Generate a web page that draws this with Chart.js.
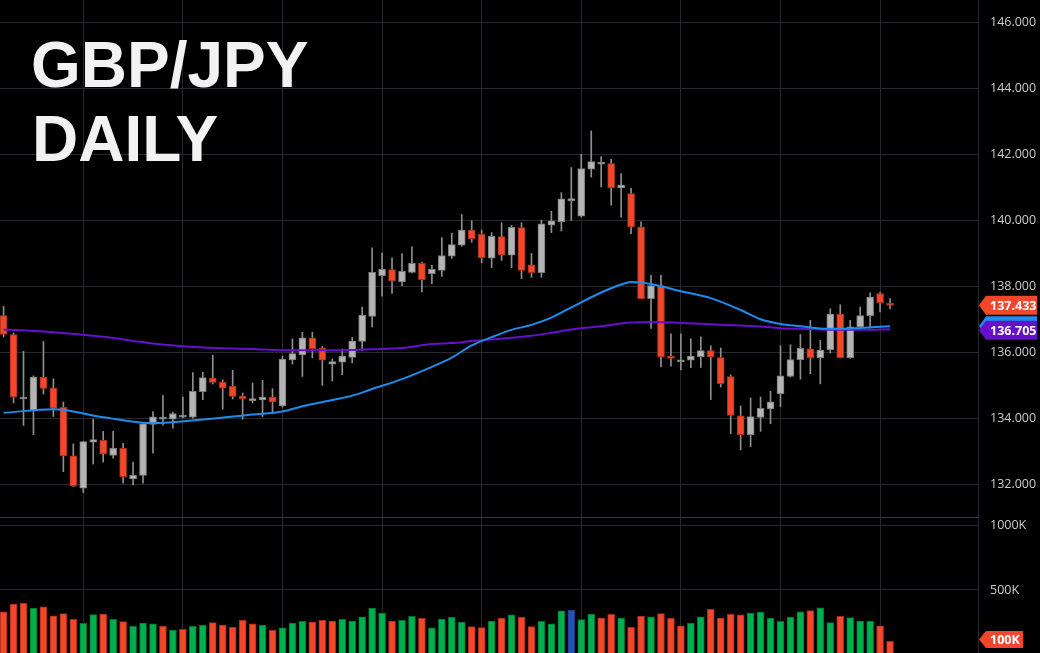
<!DOCTYPE html>
<html>
<head>
<meta charset="utf-8">
<title>GBP/JPY Daily</title>
<style>
  html, body { margin: 0; padding: 0; background: #000; }
  #wrap { width: 1040px; height: 653px; }
</style>
<script src="https://cdn.jsdelivr.net/npm/chart.js@4.4.1/dist/chart.umd.min.js"></script>
</head>
<body>
<div id="wrap"><canvas id="chart" width="1040" height="653"></canvas></div>
<script>
// Daily candles (index 0 = leftmost bar)
const opens = [137.12, 136.55, 134.60, 134.25, 135.26, 134.93, 134.35, 132.88, 131.90, 133.29,
  133.35, 132.89, 133.11, 132.18, 132.29, 133.83, 133.99, 133.99, 134.05, 134.05,
  134.82, 135.23, 135.11, 134.98, 134.69, 134.55, 134.57, 134.66, 134.39, 135.78,
  135.93, 136.45, 136.14, 135.65, 135.71, 135.86, 136.34, 137.10, 138.33, 138.51,
  138.14, 138.43, 138.70, 138.39, 138.49, 138.92, 139.25, 139.71, 139.58, 138.86,
  139.51, 138.95, 139.78, 138.66, 138.42, 139.86, 139.96, 140.60, 140.13, 141.55,
  141.70, 141.72, 140.98, 140.81, 139.80, 137.63, 138.03, 135.88, 135.72, 135.77,
  135.88, 136.06, 135.85, 135.28, 134.09, 133.52, 134.04, 134.30, 134.76, 135.28,
  135.79, 136.12, 135.85, 136.09, 137.17, 135.85, 136.78, 137.12, 137.79, 137.49];
const highs = [137.40, 136.60, 136.04, 135.30, 136.34, 135.21, 134.51, 133.24, 133.31, 133.99,
  133.62, 133.62, 133.26, 132.69, 133.85, 134.22, 134.70, 134.20, 134.66, 135.40,
  135.41, 135.92, 135.18, 135.47, 134.78, 135.08, 135.16, 134.91, 135.89, 136.42,
  136.62, 136.62, 136.19, 135.81, 136.11, 136.46, 137.38, 139.17, 139.02, 138.87,
  139.00, 139.20, 138.74, 138.64, 139.48, 139.61, 140.18, 139.99, 139.71, 139.63,
  139.93, 139.85, 139.93, 139.00, 140.01, 140.28, 140.84, 141.60, 142.00, 142.71,
  141.93, 141.85, 141.42, 140.97, 139.96, 138.34, 138.34, 136.57, 136.57, 136.42,
  136.48, 136.21, 136.14, 135.33, 134.39, 134.63, 134.66, 134.83, 136.21, 136.24,
  136.55, 136.98, 136.37, 137.33, 137.45, 136.98, 137.38, 137.81, 137.83, 137.64];
const lows = [136.48, 134.48, 133.80, 133.52, 134.75, 134.07, 132.40, 131.95, 131.77, 132.63,
  132.69, 132.81, 132.05, 132.00, 132.05, 132.96, 133.81, 133.72, 134.03, 134.02,
  134.58, 135.05, 134.29, 134.60, 133.99, 134.48, 134.07, 134.15, 134.35, 135.66,
  135.28, 135.84, 135.01, 135.15, 135.33, 135.69, 136.07, 136.78, 137.71, 137.79,
  138.03, 138.41, 137.84, 138.09, 138.31, 138.85, 139.22, 139.34, 138.72, 138.57,
  138.79, 138.57, 138.24, 138.28, 138.28, 139.63, 139.68, 140.00, 140.10, 141.31,
  141.01, 140.46, 140.10, 139.60, 137.63, 136.73, 135.57, 135.59, 135.48, 135.55,
  135.55, 134.58, 134.96, 133.55, 133.06, 133.16, 133.62, 133.85, 134.37, 135.26,
  135.20, 135.36, 135.06, 135.99, 135.84, 135.83, 136.68, 136.75, 137.23, 137.32];
const closes = [136.55, 134.66, 134.65, 135.26, 134.92, 134.32, 132.88, 131.97, 133.31, 133.37,
  132.94, 133.11, 132.25, 132.29, 133.85, 134.06, 134.04, 134.16, 134.10, 134.83,
  135.25, 135.10, 134.93, 134.68, 134.61, 134.60, 134.66, 134.51, 135.81, 135.97,
  136.45, 136.12, 135.77, 135.73, 135.90, 136.35, 137.14, 138.43, 138.52, 138.17,
  138.46, 138.70, 138.21, 138.52, 138.94, 139.27, 139.71, 139.45, 138.87, 139.52,
  138.96, 139.79, 138.49, 138.42, 139.90, 139.99, 140.65, 140.65, 141.57, 141.78,
  141.75, 140.99, 141.07, 139.80, 137.63, 138.03, 135.87, 135.83, 135.77, 135.90,
  136.06, 135.87, 135.06, 134.10, 133.52, 134.07, 134.32, 134.51, 135.30, 135.79,
  136.13, 135.85, 136.08, 137.17, 135.85, 136.78, 137.12, 137.68, 137.51, 137.433];

// Volume in thousands
const volumes = [331, 391, 397, 360, 370, 300, 316, 272, 241, 308,
  313, 272, 254, 218, 243, 236, 220, 189, 194, 218,
  228, 246, 228, 210, 264, 236, 228, 187, 205, 243,
  257, 251, 264, 259, 272, 259, 292, 360, 321, 259,
  264, 295, 280, 205, 274, 288, 251, 215, 207, 259,
  282, 306, 290, 215, 257, 236, 337, 344, 269, 313,
  282, 311, 282, 210, 298, 292, 316, 280, 222, 243,
  292, 350, 282, 311, 306, 321, 329, 282, 257, 290,
  331, 339, 362, 246, 295, 285, 259, 259, 222, 100];

// Moving averages, sampled at these bar indices
const maIndex = [0, 5, 10, 15, 20, 25, 28, 30, 33, 35, 37, 40, 43, 45, 47, 49, 51, 53, 55, 57,
  60, 62, 63, 65, 68, 71, 74, 76, 78, 80, 82, 84, 86, 89];
const maFast = [134.18, 134.29, 134.05, 133.87, 133.98, 134.13, 134.22, 134.38, 134.57, 134.70,
  134.90, 135.20, 135.57, 135.85, 136.22, 136.47, 136.69, 136.84, 137.06, 137.37,
  137.82, 138.06, 138.14, 138.08, 137.86, 137.65, 137.29, 137.01, 136.87, 136.80,
  136.73, 136.72, 136.75, 136.80];
const maSlow = [136.70, 136.62, 136.48, 136.28, 136.16, 136.11, 136.07, 136.07, 136.07, 136.08,
  136.10, 136.14, 136.26, 136.29, 136.35, 136.40, 136.45, 136.51, 136.60, 136.70,
  136.80, 136.88, 136.91, 136.93, 136.90, 136.86, 136.82, 136.79, 136.74, 136.72,
  136.70, 136.69, 136.69, 136.705];

// Axis ticks
const priceTicks = [132, 134, 136, 138, 140, 142, 144, 146];
const volumeTicks = [500, 1000];
const gridBars = [8, 18, 28, 38, 48, 58, 68, 78, 88];

const UP = '#b4b4b4', UP_EDGE = '#7c7c7c';
const DOWN = '#f2472b', DOWN_EDGE = '#a8301a';
const WICK = '#8e8e8e';
const VOL_UP = '#00b04f', VOL_DOWN = '#f2472b', VOL_FLAT = '#2452b8';
const BLUE = '#1e8cec', PURPLE = '#6610cc';
const GRID = '#262a2f';

const isUp = i => closes[i] >= opens[i];
const volColor = i => {
  const prev = i > 0 ? closes[i - 1] : opens[i];
  if (closes[i] > prev) return VOL_UP;
  if (closes[i] < prev) return VOL_DOWN;
  return VOL_FLAT;
};
const volEdge = i => {
  const c = volColor(i);
  return c === VOL_UP ? '#00702f' : c === VOL_DOWN ? '#a02c18' : '#163a80';
};

function drawTag(ctx, x, y, w, h, color, text) {
  ctx.save();
  ctx.fillStyle = color;
  ctx.beginPath();
  ctx.moveTo(x, y);
  ctx.lineTo(x + 7, y - h / 2);
  ctx.lineTo(x + w, y - h / 2);
  ctx.lineTo(x + w, y + h / 2);
  ctx.lineTo(x + 7, y + h / 2);
  ctx.closePath();
  ctx.fill();
  if (text) {
    ctx.fillStyle = '#ffffff';
    ctx.font = "bold 12.5px 'Open Sans', sans-serif";
    ctx.textAlign = 'left';
    ctx.textBaseline = 'middle';
    ctx.fillText(text, x + 11, y + 1);
  }
  ctx.restore();
}

const overlay = {
  id: 'overlay',
  beforeDatasetsDraw(chart) {
    const ctx = chart.ctx;
    ctx.save();
    ctx.fillStyle = '#f2f2f2';
    ctx.font = "bold 64px 'Liberation Sans', Arial, sans-serif";
    ctx.textAlign = 'left';
    ctx.textBaseline = 'alphabetic';
    ctx.fillText('GBP/JPY', 31, 87);
    ctx.fillText('DAILY', 32, 161);
    ctx.restore();
  },
  afterDraw(chart) {
    const { ctx, scales: { y, yv } } = chart;
    const x0 = y.left + 1;
    drawTag(ctx, x0, y.getPixelForValue(maFast[maFast.length - 1]), 58, 20, BLUE, '');
    drawTag(ctx, x0, y.getPixelForValue(maSlow[maSlow.length - 1]) + 1, 58, 19, PURPLE,
      maSlow[maSlow.length - 1].toFixed(3));
    drawTag(ctx, x0, y.getPixelForValue(closes[closes.length - 1]), 58, 19, DOWN,
      closes[closes.length - 1].toFixed(3));
    const lastVol = volumes[volumes.length - 1];
    drawTag(ctx, x0, yv.getPixelForValue(lastVol) - 2, 44, 17, VOL_DOWN, lastVol + 'K');
  }
};

// stop the axes from reserving room above/below the plot for their labels
const noPad = ax => { ax.paddingTop = 0; ax.paddingBottom = 0; ax.paddingLeft = 0; ax.paddingRight = 0; };

Chart.defaults.font.family = "'Open Sans', sans-serif";
Chart.defaults.font.size = 12.5;
Chart.defaults.color = '#cccccc';

new Chart(document.getElementById('chart'), {
  type: 'bar',
  data: {
    datasets: [
      {
        type: 'line',
        label: 'MA fast',
        data: maIndex.map((x, k) => ({ x, y: maFast[k] })),
        yAxisID: 'y',
        borderColor: BLUE,
        borderWidth: 2,
        pointRadius: 0,
        cubicInterpolationMode: 'monotone',
        order: 0
      },
      {
        type: 'line',
        label: 'MA slow',
        data: maIndex.map((x, k) => ({ x, y: maSlow[k] })),
        yAxisID: 'y',
        borderColor: PURPLE,
        borderWidth: 2,
        pointRadius: 0,
        cubicInterpolationMode: 'monotone',
        order: 0
      },
      {
        label: 'Bodies',
        data: opens.map((o, i) => ({ x: i, y: [o, closes[i]] })),
        yAxisID: 'y',
        grouped: false,
        barThickness: 7,
        minBarLength: 2,
        borderWidth: 1,
        borderSkipped: false,
        backgroundColor: c => isUp(c.dataIndex) ? UP : DOWN,
        borderColor: c => isUp(c.dataIndex) ? UP_EDGE : DOWN_EDGE,
        order: 1
      },
      {
        label: 'Wicks',
        data: lows.map((l, i) => ({ x: i, y: [l, highs[i]] })),
        yAxisID: 'y',
        grouped: false,
        barThickness: 1,
        backgroundColor: WICK,
        borderWidth: 0,
        order: 2
      },
      {
        label: 'Volume',
        data: volumes.map((v, i) => ({ x: i, y: v })),
        yAxisID: 'yv',
        grouped: false,
        barThickness: 7,
        borderWidth: 1,
        borderSkipped: false,
        backgroundColor: c => volColor(c.dataIndex),
        borderColor: c => volEdge(c.dataIndex),
        order: 3
      }
    ]
  },
  options: {
    responsive: false,
    animation: false,
    layout: { padding: 0, autoPadding: false },
    plugins: { legend: { display: false }, tooltip: { enabled: false } },
    scales: {
      x: {
        type: 'linear',
        min: -0.36,
        max: 97.83,
        offset: false,
        ticks: { display: false },
        grid: { color: GRID, drawTicks: false, offset: false },
        border: { display: false },
        afterBuildTicks: ax => { ax.ticks = gridBars.map(v => ({ value: v })); },
        afterFit: ax => { ax.height = 0; noPad(ax); }
      },
      y: {
        type: 'linear',
        position: 'right',
        stack: 'panes',
        stackWeight: 517,
        min: 131.03,
        max: 146.667,
        grid: { color: GRID, drawTicks: false },
        border: { color: GRID },
        ticks: { padding: 12, callback: v => v.toFixed(3) },
        afterBuildTicks: ax => { ax.ticks = priceTicks.map(v => ({ value: v })); },
        afterFit: ax => { ax.width = 62; noPad(ax); }
      },
      yv: {
        type: 'linear',
        position: 'right',
        stack: 'panes',
        stackWeight: 136,
        min: 10,
        max: 1067.7,
        grid: { color: c => c.tick && c.tick.value > 1000 ? '#34383d' : GRID, drawTicks: false },
        border: { color: GRID },
        ticks: { padding: 12, callback: v => v > 1000 ? '' : v + 'K' },
        afterBuildTicks: ax => { ax.ticks = volumeTicks.concat([ax.max]).map(v => ({ value: v })); },
        afterFit: ax => { ax.width = 62; noPad(ax); }
      }
    }
  },
  plugins: [overlay]
});
</script>
</body>
</html>
